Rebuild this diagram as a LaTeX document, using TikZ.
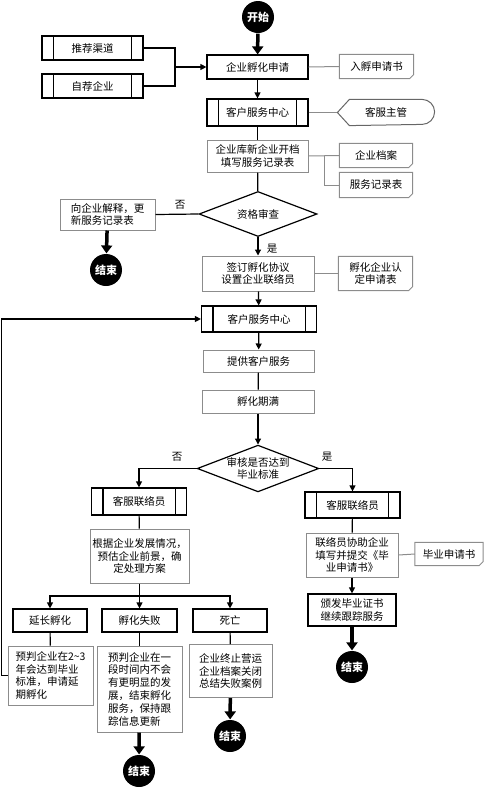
\documentclass[tikz,border=0pt]{standalone}
\usepackage{fontspec}
\setmainfont{Noto Sans CJK SC}
\usetikzlibrary{arrows.meta, shapes.geometric, positioning}

\begin{document}
\begin{tikzpicture}[x=1pt,y=-1pt,>={Triangle[length=6pt,width=6pt]},line width=1.2pt,
  font=\fontsize{10.5}{12.8}\selectfont,
  sz/.style 2 args={minimum width=#1pt,minimum height=#2pt},
  main node/.style={rectangle,draw,inner sep=1pt,align=center},
  grey node/.style={rectangle,draw=black!45,line width=1pt,inner sep=1pt,align=center},
  doc node/.style={inner sep=1pt,align=center},
  cond node/.style={diamond,draw,aspect=2.6,inner sep=0pt,align=center},
  end node/.style={circle,fill=black,text=white,font=\fontsize{11}{12}\selectfont\bfseries,minimum size=32pt,inner sep=0pt},
  big arrow/.style={line width=3.5pt,-{Triangle[length=8pt,width=11pt]}},
  note line/.style={draw=black!45,line width=1pt}]
  \useasboundingbox (0,0) rectangle (483,788);

  % top part
  \node[end node] (S) at (258,17) {开始};
  \node[main node,sz={101}{24}] (R1) at (92.5,48) {推荐渠道};
  \node[main node,sz={101}{24}] (R2) at (92.5,86) {自荐企业};
  \node[main node,sz={101}{24}] (A) at (257.5,67) {企业孵化申请};
  \node[doc node,sz={73}{23}] (D1) at (376.5,66.5) {入孵申请书};
  \node[main node,sz={101}{27}] (B) at (257.5,112.5) {客户服务中心};
  \node[doc node,sz={96}{25}] (M) at (386,112.5) {客服主管};
  \node[grey node,sz={101}{32}] (C) at (257.5,156) {企业库新企业开档\\填写服务记录表};
  \node[doc node,sz={72}{23}] (D2) at (376,155.5) {企业档案};
  \node[doc node,sz={72}{24}] (D3) at (376,185) {服务记录表};
  \node[cond node,sz={118}{45}] (Q) at (258,214) {资格审查};
  \node[grey node,sz={95}{31},align=left] (E) at (107.5,214.5) {向企业解释，更\\新服务记录表};
  \node[end node] (X1) at (106,270) {结束};
  \node[grey node,sz={112}{35}] (F) at (258,273.5) {签订孵化协议\\设置企业联络员};
  \node[doc node,sz={73}{33}] (D4) at (375.5,273.5) {孵化企业认\\定申请表};

  % middle part
  \node[main node,sz={115}{26}] (G) at (259,319) {客户服务中心};
  \node[grey node,sz={111}{22}] (H) at (258.5,361) {提供客户服务};
  \node[grey node,sz={112}{23}] (I) at (258,401.5) {孵化期满};
  \node[cond node,sz={110}{43}] (J) at (258,468.5) {审核是否达到\\毕业标准};
  \node[main node,sz={95}{27}] (K) at (139,501.5) {客服联络员};
  \node[main node,sz={95}{26}] (L) at (352.5,505) {客服联络员};
  \node[grey node,sz={99}{54}] (N) at (139.5,556) {根据企业发展情况，\\预估企业前景，确\\定处理方案};
  \node[grey node,sz={92}{44}] (O) at (352,555) {联络员协助企业\\填写并提交《毕\\业申请书》};
  \node[doc node,sz={67}{22}] (D6) at (449,554) {毕业申请书};
  \node[main node,sz={88}{32}] (P) at (352,610) {颁发毕业证书\\继续跟踪服务};
  \node[end node] (X4) at (352,667) {结束};

  % bottom part
  \node[main node,sz={74}{23}] (T1) at (50,620.5) {延长孵化};
  \node[main node,sz={75}{23}] (T2) at (139.5,620.5) {孵化失败};
  \node[main node,sz={74}{23}] (T3) at (230,620.5) {死亡};
  \node[grey node,sz={85}{59},align=left] (U1) at (50.5,675.5) {预判企业在2\textasciitilde3\\年会达到毕业\\标准，申请延\\期孵化};
  \node[grey node,sz={85}{86},align=left] (U2) at (139.5,689) {预判企业在一\\段时间内不会\\有更明显的发\\展，结束孵化\\服务，保持跟\\踪信息更新};
  \node[grey node,sz={83}{53}] (U3) at (230.5,671) {企业终止营运\\企业档案关闭\\总结失败案例};
  \node[end node] (X2) at (139,771) {结束};
  \node[end node] (X3) at (230,736) {结束};

  % labels
  \node (n1) at (180,205) {否};
  \node (y1) at (272,249) {是};
  \node (n2) at (177,457) {否};
  \node (y2) at (327,457) {是};

  % extra shapes
  \foreach \n in {R1,R2,B,G,K,L} {\draw ([xshift=12pt]\n.north west) -- ([xshift=12pt]\n.south west) ([xshift=-12pt]\n.north east) -- ([xshift=-12pt]\n.south east);}
  \foreach \n in {D1,D2,D3,D4,D6} {\draw[note line] (\n.north west) -- (\n.north east) -- ([yshift=4pt]\n.south east) -- ([xshift=-4pt]\n.south east) -- (\n.south west) -- cycle;}
  \draw[note line,draw=black!60] (M.west) -- ([xshift=12pt]M.north west) -- ([xshift=-12.5pt]M.north east) arc[start angle=90,end angle=-90,radius=12.5pt] -- ([xshift=12pt]M.south west) -- cycle;

  % connectors
  \coordinate (j1) at (175,67);
  \coordinate (j2) at (139.5,596);
  \coordinate (j3) at (324,156);
  \draw[big arrow] (S) -- (A);
  \draw (R1.east) -| (j1) |- (R2.east);
  \draw[->] (j1) -- (A.west);
  \foreach \s/\t in {A/B, Q/F, F/G, G/H, I/J, O/P} {\draw[->] (\s) -- (\t);}
  \foreach \s/\t in {B/C, C/Q, H/I, K/N, L/O, T1/U1, T2/U2, T3/U3} {\draw (\s) -- (\t);}
  \draw (Q.west) -- (E.east);
  \draw[->] (J.west) -| (K.north);
  \draw[->] (J.east) -| (L.north);
  \draw (N.south) -- (j2);
  \foreach \t in {T1,T2,T3} {\draw[->] (j2) -| (\t.north);}
  \draw[->] (U1.west) -- ++(-6,0) |- (G.west);
  \foreach \s/\t in {E/X1, P/X4, U2/X2, U3/X3} {\draw[big arrow] (\s) -- (\t);}
  \foreach \s/\t in {A/D1, B/M, C/D2, F/D4, O/D6} {\draw[note line] (\s.east) -- (\t.west);}
  \draw[note line] (j3) |- (D3.west);
\end{tikzpicture}
\end{document}
